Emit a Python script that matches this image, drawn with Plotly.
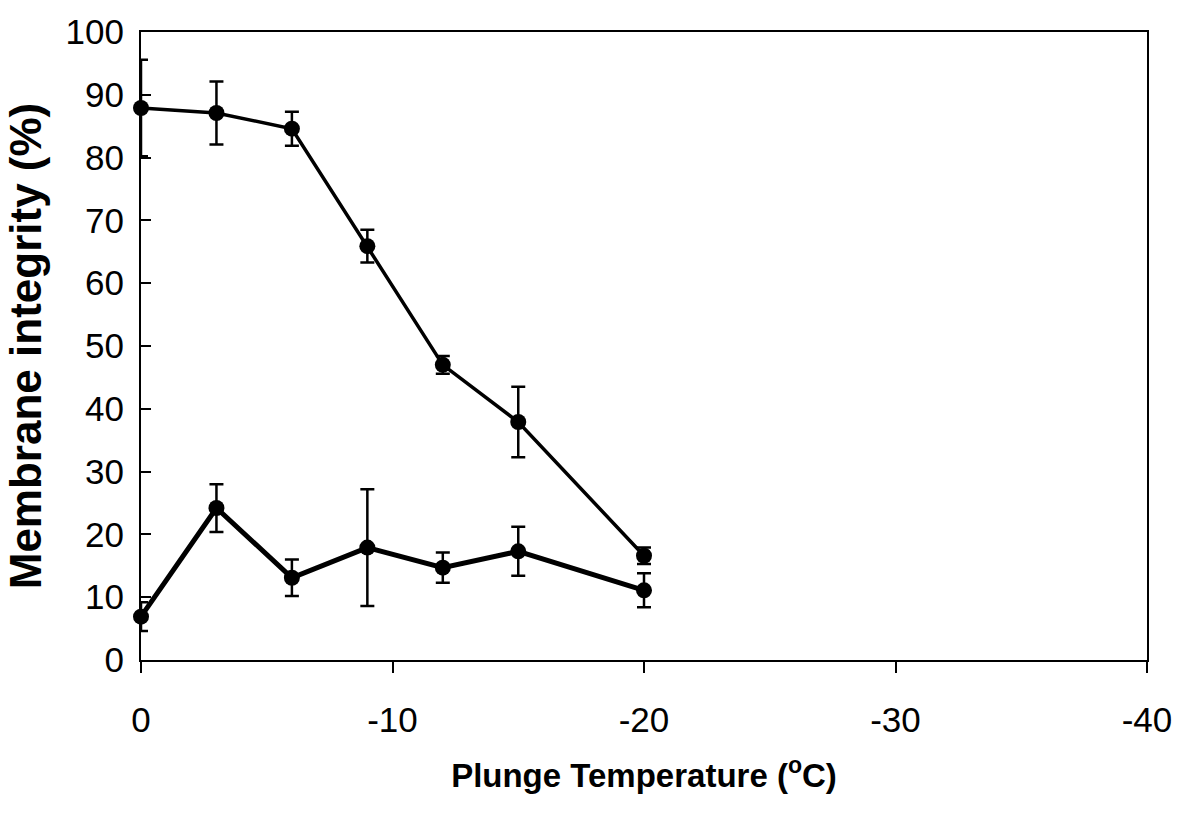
import plotly.graph_objects as go

temps = [0, -3, -6, -9, -12, -15, -20]

upper_vals = [87.9, 87.1, 84.6, 65.9, 47.0, 37.9, 16.6]
upper_err = [7.7, 5.0, 2.7, 2.6, 1.4, 5.6, 1.3]

lower_vals = [6.9, 24.2, 13.1, 17.9, 14.7, 17.3, 11.1]
lower_err = [2.3, 3.8, 2.9, 9.3, 2.4, 3.9, 2.7]

x_tickvals = [0, -10, -20, -30, -40]
x_ticktext = ["0", "-10", "-20", "-30", "-40"]
y_tickvals = [0, 10, 20, 30, 40, 50, 60, 70, 80, 90, 100]

FONT = "Liberation Sans, Arial, sans-serif"

fig = go.Figure()

fig.add_trace(go.Scatter(
    x=temps, y=upper_vals, mode="lines+markers",
    line=dict(color="black", width=3.5),
    marker=dict(color="black", size=16, symbol="circle"),
    error_y=dict(type="data", array=upper_err, visible=True,
                 color="black", thickness=2.5, width=7),
    cliponaxis=False, showlegend=False,
))

fig.add_trace(go.Scatter(
    x=temps, y=lower_vals, mode="lines+markers",
    line=dict(color="black", width=5),
    marker=dict(color="black", size=16, symbol="circle"),
    error_y=dict(type="data", array=lower_err, visible=True,
                 color="black", thickness=2.5, width=7),
    cliponaxis=False, showlegend=False,
))

fig.update_layout(
    width=1189, height=813,
    margin=dict(l=141, r=42, t=23, b=153),
    paper_bgcolor="white", plot_bgcolor="white",
    font=dict(family=FONT, color="black"),
    xaxis=dict(
        range=[0, -40], tickmode="array", tickvals=x_tickvals, ticktext=x_ticktext,
        showgrid=False, zeroline=False,
        showline=True, linecolor="black", linewidth=2, mirror=True,
        ticks="outside", ticklen=11, tickwidth=1.5, tickcolor="black",
        tickfont=dict(size=35, family=FONT, color="black"),
        ticklabelstandoff=17,
        title=dict(text="<b>Plunge Temperature (<sup>o</sup>C)</b>",
                   font=dict(size=33, family=FONT, color="black"), standoff=26),
    ),
    yaxis=dict(
        range=[0, 100], tickmode="array", tickvals=y_tickvals,
        showgrid=False, zeroline=False,
        showline=True, linecolor="black", linewidth=2, mirror=True,
        ticks="inside", ticklen=10, tickwidth=1.5, tickcolor="black",
        tickfont=dict(size=35, family=FONT, color="black"),
        ticklabelstandoff=8,
        title=dict(text="<b>Membrane integrity (%)</b>",
                   font=dict(size=44, family=FONT, color="black"), standoff=10),
    ),
)

fig.write_html("out.html")
